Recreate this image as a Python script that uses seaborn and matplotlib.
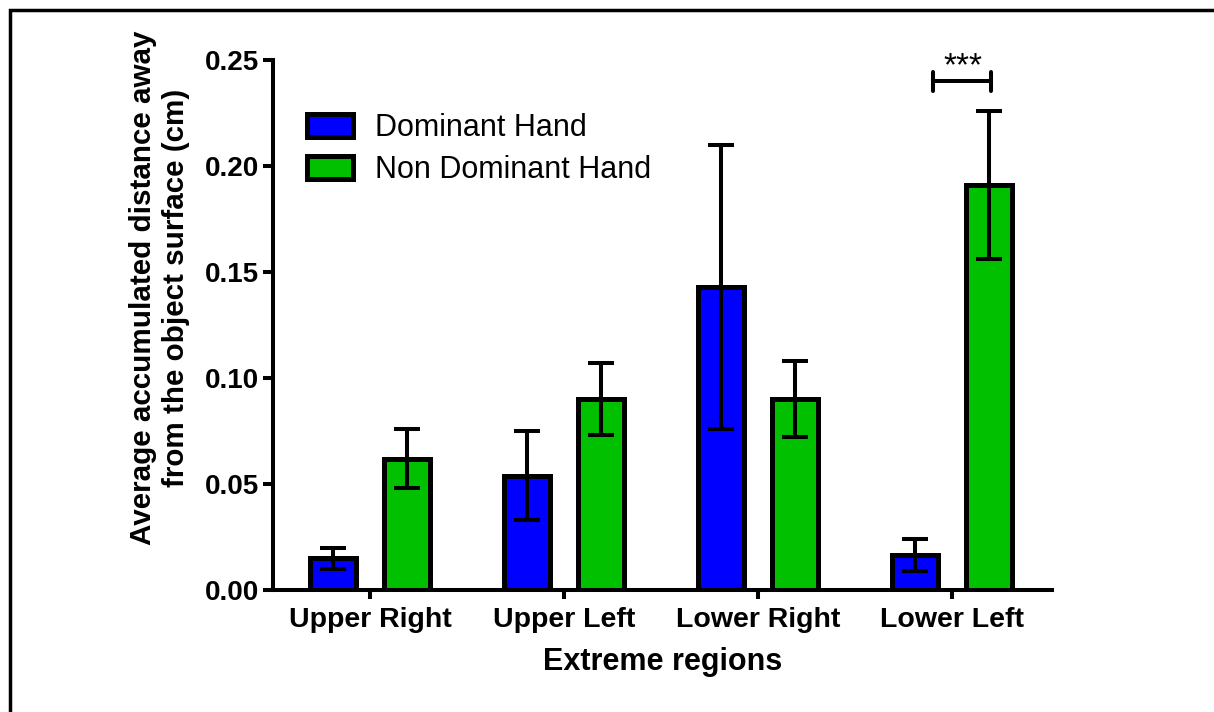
import matplotlib
matplotlib.use('Agg')
import matplotlib.pyplot as plt
from matplotlib.patches import Patch, Rectangle
import seaborn as sns
import numpy as np
import pandas as pd

# Data
regions = ['Upper Right', 'Upper Left', 'Lower Right', 'Lower Left']
hands = ['Dominant Hand', 'Non Dominant Hand']
dominant_mean = [0.015, 0.054, 0.143, 0.0165]
dominant_err = [0.005, 0.021, 0.067, 0.0077]
nondominant_mean = [0.062, 0.090, 0.090, 0.191]
nondominant_err = [0.014, 0.017, 0.018, 0.035]
y_ticks = [0.00, 0.05, 0.10, 0.15, 0.20, 0.25]
colors = ['#0000FF', '#00C000']

df = pd.DataFrame({
    'region': regions * 2,
    'hand': [hands[0]] * 4 + [hands[1]] * 4,
    'value': dominant_mean + nondominant_mean,
})
errors = dominant_err + nondominant_err

sns.set_style('ticks')
plt.rcParams['font.family'] = ['Liberation Sans', 'DejaVu Sans']
plt.rcParams.update({'text.color': 'black', 'axes.labelcolor': 'black',
                     'xtick.color': 'black', 'ytick.color': 'black',
                     'axes.edgecolor': 'black'})

fig = plt.figure(figsize=(12.14, 7.12), dpi=100)
ax = fig.add_axes([0.2249, 0.1713, 0.6417, 0.7444])

sns.barplot(data=df, x='region', y='value', hue='hand', order=regions,
            hue_order=hands, palette=colors, width=0.76, gap=0.38,
            errorbar=None, edgecolor='black', linewidth=3.6, saturation=1,
            legend=False, ax=ax)

# error bars drawn on top of the seaborn bars
for bar, err in zip(ax.patches, errors):
    xc = bar.get_x() + bar.get_width() / 2
    ax.errorbar(xc, bar.get_height(), yerr=err, fmt='none', ecolor='black',
                elinewidth=2.9, capsize=9.5, capthick=2.9, zorder=5)

# significance bracket on Lower Left
sig_x = 3
ax.plot([sig_x - 0.098, sig_x + 0.2], [0.2401, 0.2401], color='black', lw=2.9, clip_on=False)
for bx in (sig_x - 0.098, sig_x + 0.2):
    ax.plot([bx, bx], [0.2355, 0.2445], color='black', lw=2.9, clip_on=False)
ax.text(sig_x + 0.057, 0.2429, '***', ha='center', va='baseline', fontsize=24)

ax.set_ylim(0, 0.25)
ax.set_xlim(-0.5, 3.515)
ax.set_yticks(y_ticks)
ax.set_yticklabels([f'{t:.2f}' for t in y_ticks])
sns.despine(ax=ax)
for side in ('left', 'bottom'):
    ax.spines[side].set_linewidth(2.9)
ax.tick_params(axis='y', length=7.2, width=2.9, pad=3, labelsize=20)
ax.tick_params(axis='x', length=6.5, width=2.9, pad=6, labelsize=20.5)
for lab in ax.get_xticklabels() + ax.get_yticklabels():
    lab.set_fontweight('bold')

ax.set_xlabel('Extreme regions', fontsize=22, fontweight='bold', labelpad=10)
ax.set_ylabel('Average accumulated distance away\nfrom the object surface (cm)',
              fontsize=21.3, fontweight='bold')
ax.yaxis.set_label_coords(-0.107, 0.57)

handles = [Patch(facecolor=c, edgecolor='black', linewidth=3.6) for c in colors]
ax.legend(handles, hands, loc='upper left', bbox_to_anchor=(0.0436, 0.9),
          frameon=False, fontsize=22, handlelength=1.5, handleheight=0.78,
          handletextpad=0.72, labelspacing=0.4, borderpad=0, borderaxespad=0)

# frame around the figure (only left and top visible in the reference)
fig.add_artist(Rectangle((10 / 1214, -0.1), 1.2, 1 - 10 / 712 + 0.1,
                         transform=fig.transFigure, fill=False,
                         edgecolor='black', linewidth=2.5, clip_on=False))

fig.savefig('out.png', dpi=100)
plt.close()
